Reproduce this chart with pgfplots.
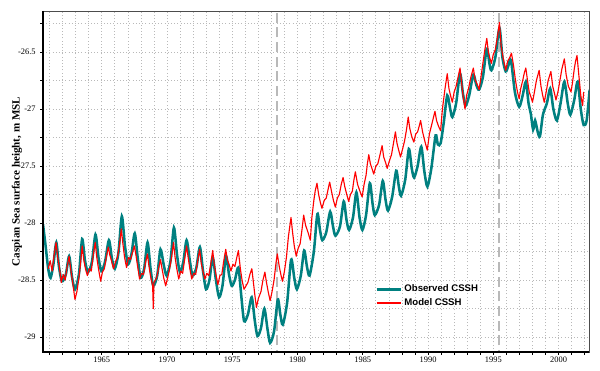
\documentclass[border=0pt]{standalone}
\usepackage{fontspec}
\setmainfont{Liberation Serif}
\newfontfamily\legfont{Liberation Sans}
\usepackage{pgfplots}
\pgfplotsset{compat=1.18}
\definecolor{obscol}{RGB}{0,128,128}
\definecolor{modelred}{RGB}{255,0,0}
\definecolor{gridc}{RGB}{185,185,185}
\definecolor{dashc}{RGB}{185,185,185}
\begin{document}
\begin{tikzpicture}
\begin{axis}[
  scale only axis, width=409.5pt, height=255.75pt,
  xmin=1960.5, xmax=2002.33, ymin=-29.13, ymax=-26.14,
  xtick={1965,1970,...,2000}, minor xtick={1961,1962,...,2002},
  ytick={-29,-28.5,-28,-27.5,-27,-26.5}, minor ytick={-28.75,-28.25,-27.75,-27.25,-26.75,-26.25},
  grid=both,
  major grid style={gridc, line width=0.5pt, dash pattern=on 0.8pt off 1.6pt},
  minor grid style={gridc, line width=0.5pt, dash pattern=on 0.8pt off 1.6pt},
  tick pos=left, tick align=outside,
  major tick length=2pt, minor tick length=2pt,
  tick style={black, line width=0.5pt},
  axis line style={draw=black!70, line width=0.6pt},
  /pgf/number format/assume math mode=true,
  x tick label style={font=\fontsize{6.3}{7}\selectfont, /pgf/number format/1000 sep={}, yshift=2pt},
  y tick label style={font=\fontsize{6.3}{7}\selectfont, /pgf/number format/fixed},
  ylabel={Caspian Sea surface height, m MSL},
  ylabel style={font=\fontsize{8.3}{10}\selectfont\bfseries, at={(axis description cs:-0.0476,0.5)}, anchor=center},
  legend style={at={(rel axis cs:0.608,0.205)}, anchor=north west, draw=none, fill=none,
    font=\fontsize{7.2}{8.5}\legfont\bfseries, inner sep=0pt, row sep=-0.5pt},
  legend cell align=left,
  clip=true,
]
\addplot[dashc, line width=1.5pt, dash pattern=on 7.5pt off 3.5pt, forget plot] coordinates {(1978.4,-29.2) (1978.4,-26.0)};
\addplot[dashc, line width=1.5pt, dash pattern=on 7.5pt off 3.5pt, forget plot] coordinates {(1995.4,-29.2) (1995.4,-26.0)};
\addplot[obscol, line width=1.9pt, smooth, tension=0.45,
  legend image code/.code={\draw[obscol, line width=1.9pt] (0pt,0pt) -- (18pt,0pt);}] table {
1960.5 -28.01
1960.7 -28.20
1960.9 -28.40
1961.08 -28.48
1961.3 -28.36
1961.52 -28.17
1961.72 -28.38
1961.95 -28.51
1962.25 -28.45
1962.5 -28.29
1962.72 -28.47
1962.95 -28.58
1963.25 -28.45
1963.5 -28.14
1963.72 -28.33
1963.95 -28.43
1964.25 -28.34
1964.52 -28.10
1964.75 -28.30
1964.97 -28.42
1965.25 -28.34
1965.55 -28.15
1965.78 -28.31
1966.0 -28.40
1966.28 -28.26
1966.54 -27.94
1966.78 -28.20
1967.02 -28.36
1967.28 -28.27
1967.53 -28.09
1967.76 -28.31
1967.98 -28.48
1968.25 -28.40
1968.51 -28.17
1968.74 -28.40
1968.95 -28.55
1969.25 -28.46
1969.5 -28.23
1969.74 -28.36
1969.97 -28.46
1970.27 -28.33
1970.53 -28.04
1970.77 -28.28
1970.99 -28.43
1971.25 -28.34
1971.5 -28.15
1971.75 -28.33
1971.96 -28.46
1972.25 -28.39
1972.52 -28.21
1972.76 -28.42
1972.99 -28.58
1973.25 -28.50
1973.5 -28.30
1973.75 -28.50
1973.99 -28.65
1974.25 -28.55
1974.52 -28.29
1974.75 -28.45
1974.96 -28.55
1975.2 -28.50
1975.47 -28.39
1975.7 -28.65
1975.91 -28.86
1976.2 -28.80
1976.49 -28.65
1976.72 -28.85
1976.93 -28.99
1977.2 -28.92
1977.46 -28.75
1977.7 -28.93
1977.9 -29.05
1978.2 -28.95
1978.49 -28.67
1978.68 -28.80
1978.87 -28.89
1979.2 -28.70
1979.51 -28.32
1979.75 -28.48
1979.95 -28.58
1980.25 -28.46
1980.51 -28.24
1980.72 -28.38
1980.92 -28.46
1981.25 -28.25
1981.52 -27.92
1981.72 -28.06
1981.9 -28.15
1982.2 -28.08
1982.5 -27.90
1982.72 -28.03
1982.9 -28.11
1983.25 -28.03
1983.54 -27.81
1983.75 -27.97
1983.95 -28.06
1984.25 -27.95
1984.51 -27.73
1984.75 -27.95
1984.97 -28.06
1985.25 -27.93
1985.54 -27.65
1985.75 -27.83
1985.92 -27.93
1986.25 -27.84
1986.53 -27.63
1986.75 -27.80
1986.93 -27.89
1987.25 -27.77
1987.56 -27.54
1987.75 -27.67
1987.93 -27.76
1988.25 -27.62
1988.53 -27.35
1988.75 -27.52
1988.93 -27.60
1989.2 -27.50
1989.48 -27.33
1989.72 -27.55
1989.95 -27.68
1990.25 -27.52
1990.58 -27.23
1990.75 -27.31
1990.96 -27.30
1991.2 -27.12
1991.47 -26.88
1991.7 -27.00
1991.86 -27.07
1992.15 -26.95
1992.45 -26.69
1992.68 -26.87
1992.88 -26.97
1993.15 -26.88
1993.47 -26.70
1993.7 -26.79
1993.91 -26.83
1994.2 -26.72
1994.5 -26.47
1994.7 -26.60
1994.85 -26.66
1995.15 -26.55
1995.47 -26.29
1995.7 -26.55
1995.95 -26.67
1996.15 -26.62
1996.35 -26.57
1996.65 -26.85
1996.98 -26.98
1997.25 -26.88
1997.49 -26.76
1997.7 -26.95
1997.87 -27.04
1998.05 -27.18
1998.2 -27.10
1998.4 -27.20
1998.57 -27.24
1998.8 -27.05
1999.1 -26.95
1999.36 -26.82
1999.6 -27.00
1999.87 -27.10
2000.15 -26.95
2000.44 -26.76
2000.7 -26.95
2000.9 -27.05
2001.2 -26.92
2001.46 -26.76
2001.7 -27.00
2001.92 -27.14
2002.15 -27.10
2002.38 -26.83
};
\addlegendentry{Observed CSSH}
\addplot[modelred, line width=0.85pt, line join=round,
  legend image code/.code={\draw[modelred, line width=1pt] (0pt,0pt) -- (18pt,0pt);}] table {
1960.9 -28.40
1961.05 -28.33
1961.2 -28.42
1961.35 -28.28
1961.5 -28.17
1961.62 -28.30
1961.75 -28.38
1961.9 -28.52
1962.05 -28.45
1962.2 -28.50
1962.35 -28.38
1962.5 -28.29
1962.62 -28.40
1962.75 -28.50
1962.95 -28.67
1963.1 -28.60
1963.25 -28.48
1963.38 -28.35
1963.5 -28.20
1963.62 -28.32
1963.75 -28.40
1963.9 -28.46
1964.05 -28.40
1964.2 -28.42
1964.35 -28.28
1964.5 -28.17
1964.62 -28.30
1964.75 -28.40
1964.92 -28.51
1965.05 -28.43
1965.2 -28.40
1965.35 -28.30
1965.5 -28.21
1965.62 -28.28
1965.75 -28.33
1965.9 -28.40
1966.05 -28.34
1966.2 -28.30
1966.35 -28.20
1966.5 -28.05
1966.62 -28.18
1966.75 -28.30
1966.9 -28.39
1967.05 -28.30
1967.2 -28.32
1967.35 -28.26
1967.5 -28.20
1967.62 -28.28
1967.75 -28.38
1967.9 -28.49
1968.05 -28.44
1968.2 -28.45
1968.35 -28.35
1968.5 -28.27
1968.62 -28.38
1968.75 -28.47
1968.9 -28.55
1968.95 -28.75
1969.0 -28.52
1969.2 -28.48
1969.35 -28.40
1969.5 -28.32
1969.62 -28.40
1969.75 -28.48
1969.9 -28.55
1970.05 -28.48
1970.2 -28.40
1970.35 -28.30
1970.5 -28.17
1970.62 -28.30
1970.75 -28.40
1970.9 -28.49
1971.05 -28.42
1971.2 -28.44
1971.35 -28.32
1971.5 -28.20
1971.62 -28.30
1971.75 -28.40
1971.9 -28.49
1972.05 -28.44
1972.2 -28.45
1972.35 -28.33
1972.5 -28.23
1972.62 -28.35
1972.75 -28.42
1972.9 -28.49
1973.05 -28.44
1973.2 -28.46
1973.35 -28.36
1973.5 -28.24
1973.62 -28.36
1973.75 -28.45
1973.9 -28.54
1974.05 -28.46
1974.2 -28.45
1974.35 -28.33
1974.5 -28.23
1974.62 -28.32
1974.75 -28.36
1974.9 -28.42
1975.05 -28.36
1975.2 -28.38
1975.35 -28.30
1975.47 -28.24
1975.62 -28.40
1975.75 -28.50
1975.9 -28.58
1976.05 -28.55
1976.2 -28.52
1976.35 -28.45
1976.5 -28.40
1976.62 -28.52
1976.72 -28.62
1976.85 -28.74
1977.0 -28.66
1977.2 -28.60
1977.35 -28.50
1977.5 -28.43
1977.62 -28.52
1977.75 -28.60
1977.9 -28.68
1978.05 -28.60
1978.2 -28.50
1978.35 -28.35
1978.45 -28.27
1978.6 -28.38
1978.72 -28.45
1978.85 -28.51
1979.0 -28.42
1979.15 -28.30
1979.3 -28.12
1979.5 -27.95
1979.62 -28.08
1979.75 -28.20
1979.9 -28.29
1980.05 -28.22
1980.2 -28.18
1980.35 -28.05
1980.47 -27.93
1980.62 -28.02
1980.8 -28.08
1980.98 -28.15
1981.1 -27.95
1981.25 -27.80
1981.35 -27.72
1981.49 -27.65
1981.62 -27.75
1981.75 -27.82
1981.87 -27.87
1982.05 -27.80
1982.2 -27.78
1982.35 -27.70
1982.46 -27.64
1982.6 -27.72
1982.75 -27.80
1982.9 -27.86
1983.05 -27.78
1983.2 -27.75
1983.35 -27.66
1983.49 -27.60
1983.62 -27.68
1983.75 -27.74
1983.92 -27.81
1984.05 -27.75
1984.2 -27.72
1984.32 -27.62
1984.43 -27.55
1984.6 -27.66
1984.78 -27.72
1984.95 -27.77
1985.1 -27.66
1985.25 -27.58
1985.35 -27.48
1985.46 -27.40
1985.58 -27.48
1985.7 -27.52
1985.84 -27.57
1986.0 -27.50
1986.15 -27.48
1986.32 -27.40
1986.48 -27.32
1986.6 -27.42
1986.75 -27.47
1986.87 -27.52
1987.05 -27.45
1987.2 -27.40
1987.35 -27.30
1987.5 -27.20
1987.62 -27.30
1987.75 -27.36
1987.89 -27.42
1988.05 -27.35
1988.2 -27.28
1988.35 -27.18
1988.48 -27.07
1988.6 -27.17
1988.75 -27.24
1988.91 -27.29
1989.05 -27.22
1989.2 -27.20
1989.32 -27.15
1989.43 -27.10
1989.58 -27.20
1989.75 -27.28
1989.94 -27.36
1990.1 -27.22
1990.25 -27.15
1990.4 -27.08
1990.53 -27.02
1990.65 -27.10
1990.8 -27.15
1990.96 -27.19
1991.1 -27.00
1991.3 -26.82
1991.47 -26.69
1991.6 -26.82
1991.72 -26.88
1991.86 -26.94
1992.0 -26.85
1992.15 -26.80
1992.3 -26.72
1992.45 -26.64
1992.58 -26.78
1992.7 -26.90
1992.83 -27.00
1992.95 -26.88
1993.1 -26.82
1993.28 -26.72
1993.47 -26.64
1993.6 -26.74
1993.75 -26.78
1993.91 -26.83
1994.05 -26.72
1994.2 -26.60
1994.35 -26.48
1994.5 -26.38
1994.62 -26.50
1994.75 -26.56
1994.85 -26.60
1995.0 -26.52
1995.15 -26.48
1995.3 -26.38
1995.47 -26.24
1995.6 -26.45
1995.75 -26.55
1995.95 -26.66
1996.1 -26.58
1996.25 -26.55
1996.39 -26.51
1996.55 -26.62
1996.7 -26.75
1996.85 -26.85
1996.98 -26.91
1997.1 -26.82
1997.25 -26.75
1997.38 -26.68
1997.49 -26.64
1997.62 -26.75
1997.75 -26.85
1997.9 -26.90
1998.0 -26.94
1998.15 -26.85
1998.3 -26.75
1998.51 -26.66
1998.65 -26.80
1998.78 -26.88
1998.9 -26.94
1999.05 -26.85
1999.2 -26.75
1999.41 -26.67
1999.55 -26.80
1999.68 -26.86
1999.8 -26.92
1999.95 -26.85
2000.1 -26.75
2000.25 -26.65
2000.44 -26.56
2000.58 -26.70
2000.75 -26.80
2000.95 -26.85
2001.05 -26.78
2001.2 -26.65
2001.3 -26.58
2001.41 -26.53
2001.55 -26.70
2001.7 -26.88
2001.84 -26.97
2001.92 -26.85
};
\addlegendentry{Model CSSH}
\end{axis}
\draw[black, line width=0.8pt] (current axis.north west) -- (current axis.south west) -- (current axis.south east);
\pgfresetboundingbox
\path ([xshift=-32.25pt,yshift=-14.25pt]current axis.south west) rectangle ([xshift=8.25pt,yshift=8.25pt]current axis.north east);
\end{tikzpicture}
\end{document}
